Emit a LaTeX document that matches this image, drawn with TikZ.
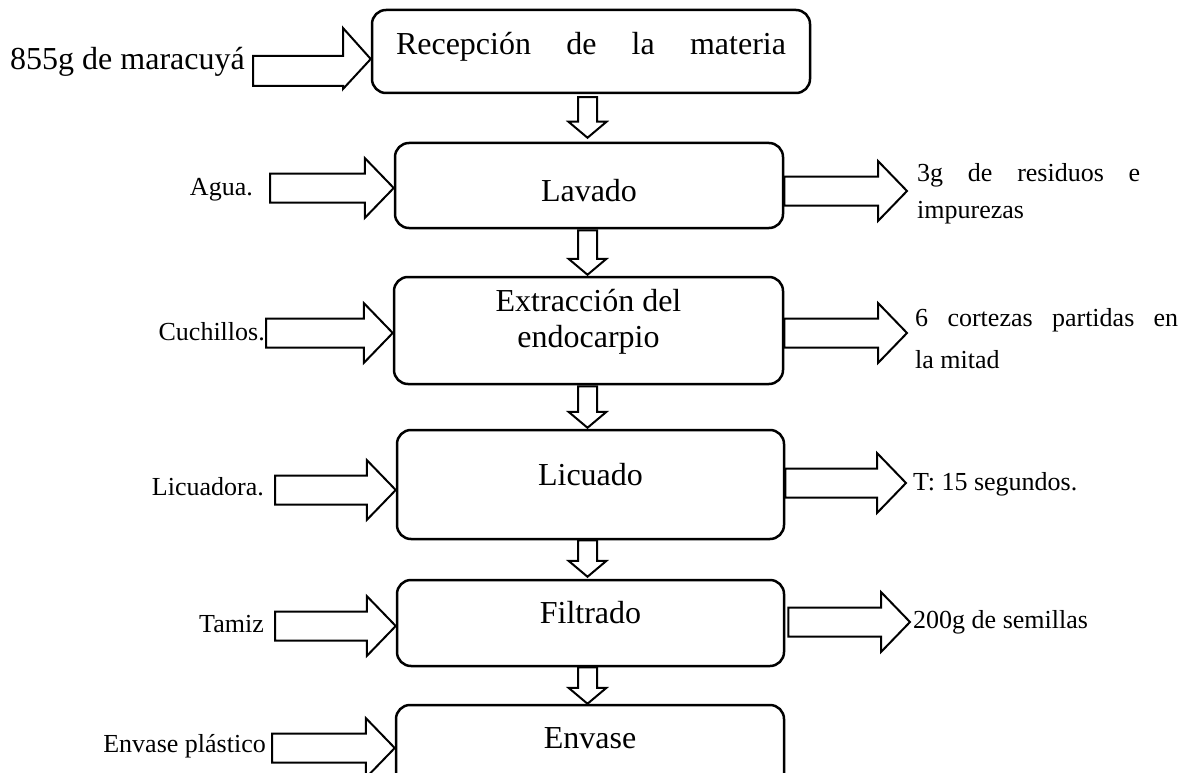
\documentclass[tikz,border=0pt]{standalone}
\usepackage{fontspec}
\setmainfont{Liberation Serif}
\usetikzlibrary{calc}

\tikzset{
  etapa/.style={draw, rounded corners=14pt, line width=2.5pt, inner sep=0pt, anchor=base,
    font=\fontsize{32}{38}\selectfont},
  dato/.style={inner sep=0pt, font=\fontsize{26}{37}\selectfont},
  bloque/.style={draw, line width=2pt, line join=miter}
}

% block arrow: start, tip, shaft half width, head half width, head length
\newcommand{\flecha}[5]{%
  \coordinate (fb) at ($(#2)!#5!(#1)$);
  \draw[bloque] ($(#1)!#3!90:(#2)$) -- ($(fb)!#3!90:(#2)$) -- ($(fb)!#4!90:(#2)$) -- (#2)
    -- ($(fb)!#4!-90:(#2)$) -- ($(fb)!#3!-90:(#2)$) -- ($(#1)!#3!-90:(#2)$) -- cycle;}

\begin{document}
\begin{tikzpicture}[x=1pt,y=-1pt]
\useasboundingbox (0,0) rectangle (1183,773);
\clip (0,0) rectangle (1183,773);

% Etapas
\node[etapa, minimum width=438pt, text height=45pt, text depth=38pt] (rec) at (591,55)
  {\makebox[390pt][s]{Recepción de la materia}};
\node[etapa, minimum width=388pt, text height=58pt, text depth=27pt] (lav) at (589,201) {Lavado};
\node[etapa, minimum width=389pt, text height=34pt, text depth=73pt] (ext) at (588.5,311)
  {\parbox[t]{300pt}{\centering\setlength{\baselineskip}{36pt}Extracción del\\endocarpio}};
\node[etapa, minimum width=387pt, text height=55pt, text depth=54pt] (lic) at (590.5,485) {Licuado};
\node[etapa, minimum width=387pt, text height=43pt, text depth=43pt] (fil) at (590.5,623) {Filtrado};
\node[etapa, minimum width=388pt, text height=43pt, text depth=60pt] (env) at (590,748) {Envase};

% Entradas
\node[dato, anchor=base east, font=\fontsize{32}{38}\selectfont] (mar) at (245,70) {855g de maracuyá};
\node[dato, anchor=base east] (agua) at (253,195) {Agua.};
\node[dato, anchor=base east] (cuch) at (265,340) {Cuchillos.};
\node[dato, anchor=base east] (licu) at (264,495) {Licuadora.};
\node[dato, anchor=base east] (tamiz) at (264,632) {Tamiz};
\node[dato, anchor=base east] (plast) at (266,752) {Envase plástico};

% Salidas
\node[dato, anchor=base west] (resid) at (917,181)
  {\parbox[t]{223pt}{\setlength{\baselineskip}{37pt}\makebox[223pt][s]{3g de residuos e}\\impurezas}};
\node[dato, anchor=base west] (cort) at (915,326)
  {\parbox[t]{263pt}{\setlength{\baselineskip}{42pt}\makebox[263pt][s]{6 cortezas partidas en}\\la mitad}};
\node[dato, anchor=base west] (tiempo) at (913,490) {T: 15 segundos.};
\node[dato, anchor=base west] (semi) at (913,628) {200g de semillas};

% Flecha de la materia prima
\draw[bloque] (253,56) -- (343,56) -- (343,28) -- (rec.west |- 0,59) -- (343,89) -- (343,86)
  -- (253,86) -- cycle;

% Flechas de entrada
\foreach \e/\n/\x/\y in {agua/lav/270/188, cuch/ext/266/333, licu/lic/275/490,
    tamiz/fil/275/626, plast/env/272/748} {
  \coordinate (e\e) at (\x,\y);
  \flecha{e\e}{\n.west |- e\e}{14.5pt}{30pt}{29pt};
}

% Flechas de salida
\foreach \n/\x/\y/\g in {lav/907/191/0, ext/907/333/0, lic/906/483/0, fil/910/622/3} {
  \coordinate (s\n) at (\x,\y);
  \coordinate (a\n) at ($(\n.east |- s\n)+(\g,0)$);
  \flecha{a\n}{s\n}{14.5pt}{30pt}{29pt};
}

% Flechas entre etapas
\coordinate (eje) at (587.5,0);
\foreach \a/\b/\s/\t in {rec/lav/3/4, lav/ext/1/1, ext/lic/1/1, lic/fil/0/2, fil/env/0/0} {
  \coordinate (d\a) at ($(\a.south -| eje)+(0,\s)$);
  \coordinate (u\b) at ($(\b.north -| eje)+(0,-\t)$);
  \flecha{d\a}{u\b}{9.5pt}{19pt}{16pt};
}

\end{tikzpicture}
\end{document}
